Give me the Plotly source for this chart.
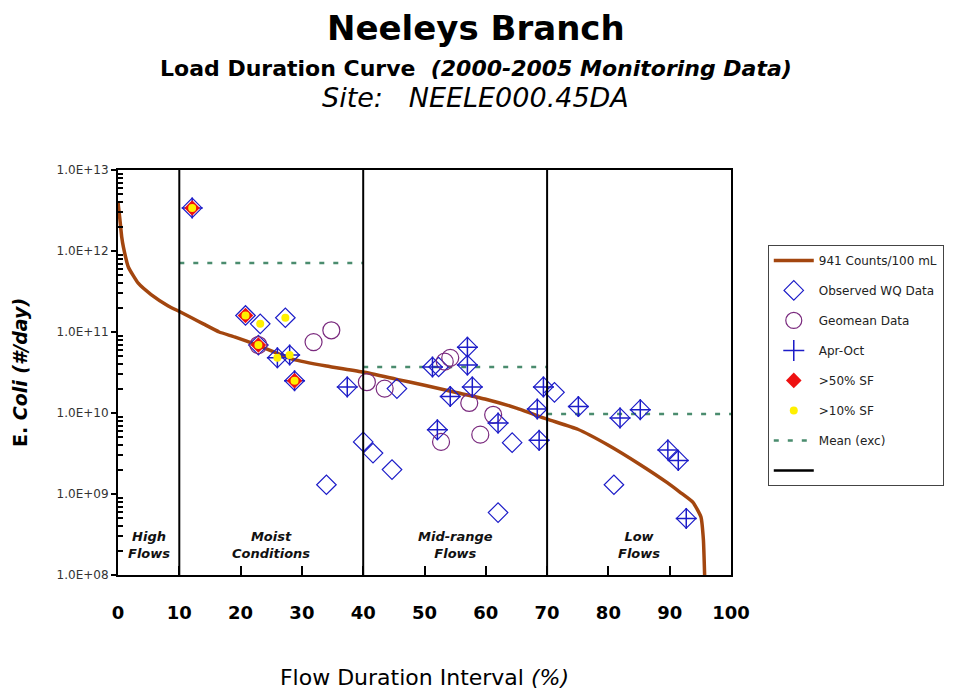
import plotly.graph_objects as go

# ---------------- data ----------------
curve_x = [0, 0.3, 0.6, 0.9, 1.7, 3.3, 5.4, 8.2, 10.1, 12, 14, 16.5, 19, 22.7, 28.6, 34, 40, 45.5, 50, 55, 60,
           65, 70, 75, 80, 85.2, 89.6, 91.7, 93.8, 95.1, 95.5, 95.7, 95.8]
curve_y = [4.0e12, 2.5e12, 1.5e12, 1.1e12, 6.3e11, 4.0e11, 2.9e11, 2.1e11, 1.78e11, 1.5e11, 1.25e11, 1.0e11, 8.7e10,
           6.9e10, 4.6e10, 3.8e10, 3.2e10, 2.6e10, 2.2e10, 1.8e10, 1.48e10,
           1.15e10, 8.4e9, 6.3e9, 4.0e9, 2.3e9, 1.38e9, 1.05e9, 7.9e8, 5.2e8, 2.7e8, 1.0e8, 5.0e7]

obs_x = [12.1, 20.8, 23.2, 27.3, 22.9, 26.0, 28.0, 28.8, 37.4, 34.0, 40.0, 41.6, 44.7, 45.5,
         51.3, 52.3, 57.0, 57.0, 54.2, 57.8, 52.1, 62.0, 64.3, 62.0, 69.4, 71.2, 68.4, 68.7,
         75.1, 81.9, 85.2, 89.7, 91.4, 80.9, 92.7]
obs_y = [3.4e12, 1.6e11, 1.26e11, 1.5e11, 6.9e10, 4.8e10, 5.2e10, 2.5e10, 2.1e10, 1.3e9, 4.4e9, 3.2e9, 2.0e9, 2.0e10,
         3.7e10, 3.7e10, 6.5e10, 3.9e10, 1.6e10, 2.1e10, 6.2e9, 7.5e9, 4.3e9, 5.9e8, 2.1e10, 1.8e10, 1.12e10, 4.6e9,
         1.2e10, 8.7e9, 1.1e10, 3.5e9, 2.6e9, 1.3e9, 5.0e8]

geo_x = [22.9, 31.9, 34.8, 40.6, 43.5, 53.3, 54.2, 57.3, 52.7, 59.1, 61.2]
geo_y = [6.9e10, 7.5e10, 1.05e11, 2.4e10, 2.0e10, 4.3e10, 4.8e10, 1.33e10, 4.4e9, 5.4e9, 9.5e9]

aproct_x = [12.1, 26.0, 28.0, 28.8, 37.4, 51.3, 57.0, 57.0, 54.2, 57.8, 52.1, 62.0, 69.4, 68.4, 68.7,
            75.1, 81.9, 85.2, 89.7, 91.4, 92.7]
aproct_y = [3.4e12, 4.8e10, 5.2e10, 2.5e10, 2.1e10, 3.7e10, 6.5e10, 3.9e10, 1.6e10, 2.1e10, 6.2e9, 7.5e9,
            2.1e10, 1.12e10, 4.6e9, 1.2e10, 8.7e9, 1.1e10, 3.5e9, 2.6e9, 5.0e8]

sf50_x = [12.1, 20.8, 22.9, 28.8]
sf50_y = [3.4e12, 1.6e11, 6.9e10, 2.5e10]

sf10_x = [12.1, 20.8, 23.2, 27.3, 22.9, 26.0, 28.0, 28.8]
sf10_y = [3.4e12, 1.6e11, 1.26e11, 1.5e11, 6.9e10, 4.8e10, 5.2e10, 2.5e10]

mean_start = [10, 40, 70]
mean_end = [40, 70, 100]
mean_vals = [7.1e11, 3.7e10, 9.7e9]

zone_bounds = [10, 40, 70]
zone_centers = [5, 25, 55, 85]
zone_labels = ["High<br>Flows", "Moist<br>Conditions", "Mid-range<br>Flows", "Low<br>Flows"]

y_tick_vals = [1e8, 1e9, 1e10, 1e11, 1e12, 1e13]
y_tick_text = ["1.0E+08", "1.0E+09", "1.0E+10", "1.0E+11", "1.0E+12", "1.0E+13"]
x_tick_vals = [0, 10, 20, 30, 40, 50, 60, 70, 80, 90, 100]

# ---------------- figure ----------------
FONT = "DejaVu Sans"
BLUE = "#1c1cc8"

mx, my = [], []
for s, e, v in zip(mean_start, mean_end, mean_vals):
    mx += [s, e, None]
    my += [v, v, None]

fig = go.Figure()
fig.add_trace(go.Scatter(x=curve_x, y=curve_y, mode="lines", name="941 Counts/100 mL",
                         line=dict(color="#a3460f", width=3.5, shape="spline", smoothing=0.4),
                         legendrank=1, legendgroup="g1"))
fig.add_trace(go.Scatter(x=mx, y=my, mode="lines", name="Mean (exc)",
                         line=dict(color="#4a8c6e", width=2.5, dash="5px,9px"), legendrank=7, legendgroup="g7"))
fig.add_trace(go.Scatter(x=obs_x, y=obs_y, mode="markers", name="Observed WQ Data",
                         marker=dict(symbol="diamond-open", size=15, color=BLUE, line=dict(width=1.2)),
                         legendrank=2, legendgroup="g2"))
fig.add_trace(go.Scatter(x=geo_x, y=geo_y, mode="markers", name="Geomean Data",
                         marker=dict(symbol="circle-open", size=17, color="#7a2a7e", line=dict(width=1.2)),
                         legendrank=3, legendgroup="g3"))
fig.add_trace(go.Scatter(x=aproct_x, y=aproct_y, mode="markers", name="Apr-Oct",
                         marker=dict(symbol="cross-thin-open", size=15, color=BLUE, line=dict(width=1.5, color=BLUE)),
                         legendrank=4, legendgroup="g4"))
fig.add_trace(go.Scatter(x=sf50_x, y=sf50_y, mode="markers", name=">50% SF",
                         marker=dict(symbol="diamond", size=12, color="#ee1111"),
                         legendrank=5, legendgroup="g5"))
fig.add_trace(go.Scatter(x=sf10_x, y=sf10_y, mode="markers", name=">10% SF",
                         marker=dict(symbol="circle", size=8, color="#fff000"),
                         legendrank=6, legendgroup="g6"))
fig.add_trace(go.Scatter(x=[None], y=[None], mode="lines", name=" ",
                         line=dict(color="black", width=2.5), legendrank=8, legendgroup="g8"))

for xb in zone_bounds:
    fig.add_shape(type="line", xref="x", yref="paper", x0=xb, x1=xb, y0=0, y1=1,
                  line=dict(color="black", width=2))

for xc, lab in zip(zone_centers, zone_labels):
    fig.add_annotation(x=xc, xref="x", y=(575 - 545) / 405, yref="paper", yanchor="middle",
                       text="<b><i>" + lab + "</i></b>",
                       showarrow=False, font=dict(family=FONT, size=13, color="#111"), align="center")

# titles
fig.add_annotation(x=0.584, xref="paper", y=(575 - 28) / 405, yref="paper", yanchor="middle",
                   text="<b>Neeleys Branch</b>", showarrow=False, font=dict(family=FONT, size=34, color="black"))
fig.add_annotation(x=0.584, xref="paper", y=(575 - 68) / 405, yref="paper", yanchor="middle",
                   text="<b>Load Duration Curve  <i>(2000-2005 Monitoring Data)</i></b>", showarrow=False,
                   font=dict(family=FONT, size=22, color="black"))
fig.add_annotation(x=0.584, xref="paper", y=(575 - 98) / 405, yref="paper", yanchor="middle",
                   text="<i>Site:   NEELE000.45DA</i>", showarrow=False,
                   font=dict(family=FONT, size=27, color="black"))

minor_vals = [m * 10 ** d for d in range(8, 13) for m in range(2, 10)]

fig.update_layout(
    width=962, height=692,
    margin=dict(l=110, r=239, t=162, b=125),
    paper_bgcolor="white", plot_bgcolor="white",
    showlegend=True,
    legend=dict(x=1.06, y=0.815, xanchor="left", yanchor="top",
                bgcolor="white", bordercolor="#444", borderwidth=1,
                font=dict(family=FONT, size=12, color="#222"),
                tracegroupgap=11, itemwidth=40),
    xaxis=dict(range=[0, 100], tickvals=x_tick_vals, showgrid=False, zeroline=False,
               showline=True, linecolor="black", linewidth=2, mirror=True,
               ticks="inside", ticklen=9, tickwidth=2, tickcolor="black",
               ticklabelstandoff=20,
               tickfont=dict(family=FONT, size=18, color="black", weight="bold"),
               title=dict(text="Flow Duration Interval <i>(%)</i>", standoff=48,
                          font=dict(family=FONT, size=22, color="black"))),
    yaxis=dict(type="log", range=[8, 13], tickvals=y_tick_vals, ticktext=y_tick_text,
               showgrid=False, zeroline=False,
               showline=True, linecolor="black", linewidth=2, mirror=True,
               ticks="outside", ticklen=5, tickwidth=2, tickcolor="black",
               tickfont=dict(family=FONT, size=12, color="#333"),
               minor=dict(tickvals=minor_vals, ticks="inside", ticklen=5, tickwidth=2, tickcolor="black"),
               title=dict(text="<b>E. <i>Coli (#/day)</i></b>", standoff=24,
                          font=dict(family=FONT, size=19, color="black"))),
)

fig.write_html("out.html")
